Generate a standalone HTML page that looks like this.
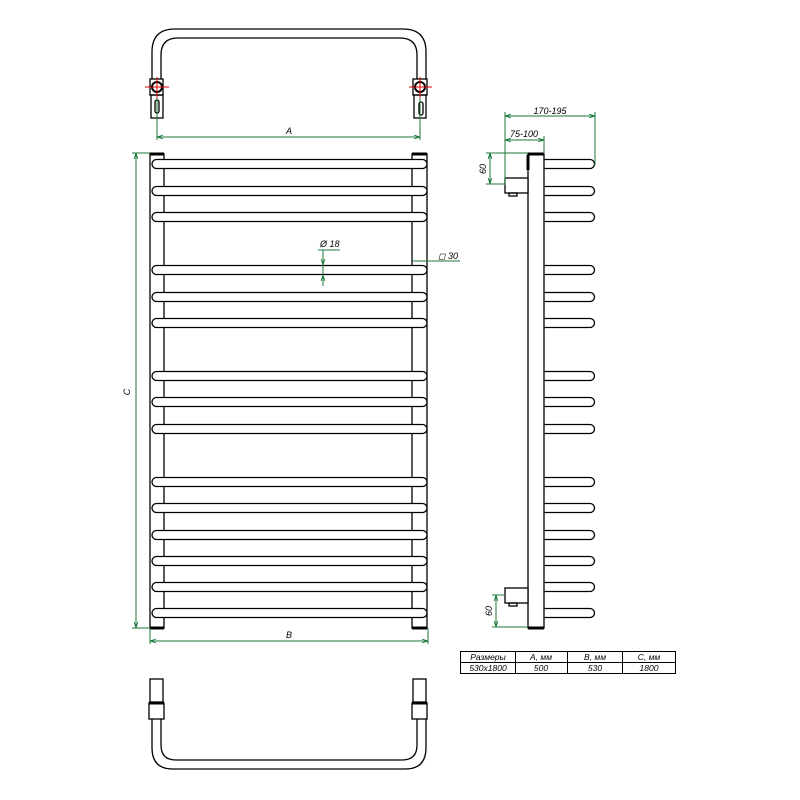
<!DOCTYPE html>
<html><head><meta charset="utf-8"><style>html,body{margin:0;padding:0;background:#fff}svg{display:block}</style></head>
<body>
<svg width="800" height="800" viewBox="0 0 800 800" xmlns="http://www.w3.org/2000/svg" font-family="Liberation Sans, sans-serif">
<defs>
<marker id="ar" viewBox="0 0 10 10" refX="10" refY="5" markerWidth="6" markerHeight="6" orient="auto-start-reverse"><path d="M0,2 L10,5 L0,8" fill="none" stroke="#1a7a3a" stroke-width="1.5"/></marker>
</defs>
<g fill="none" stroke="#000" stroke-width="1.3">
<!-- top view -->
<path d="M152,80 V52 Q152,29 175,29 H403 Q426,29 426,52 V80"/>
<path d="M161,80 V55 Q161,38 178,38 H400 Q417,38 417,55 V80"/>
<rect x="150" y="79" width="13" height="16" fill="#fff"/>
<rect x="151" y="95" width="12" height="23"/>
<rect x="413" y="79" width="14" height="16" fill="#fff"/>
<rect x="414" y="95" width="12" height="23"/>
<circle cx="157" cy="87" r="5" stroke-width="2"/>
<circle cx="420" cy="87" r="5" stroke-width="2"/>
<rect x="155" y="100" width="4" height="13" rx="2"/>
<rect x="419" y="102" width="4" height="13" rx="2"/>
<!-- front posts -->
<rect x="150" y="154" width="14" height="474"/>
<rect x="412" y="154" width="15" height="474"/>
<!-- bottom view -->
<rect x="150" y="679" width="13" height="23"/>
<rect x="149" y="703" width="15" height="16"/>
<rect x="413" y="679" width="13" height="23"/>
<rect x="412" y="703" width="15" height="16"/>
<path d="M152,719 V748 Q152,769 173,769 H405 Q426,769 426,748 V719"/>
<path d="M161,719 V745 Q161,760 176,760 H402 Q417,760 417,745 V719"/>
<!-- side view -->
<rect x="528" y="154" width="16" height="474"/>
<rect x="505" y="178" width="23" height="15" fill="#fff"/>
<rect x="509" y="193" width="8" height="3"/>
<rect x="505" y="588" width="23" height="15" fill="#fff"/>
<rect x="509" y="603" width="8" height="3"/>
</g>
<g stroke="#000" stroke-width="3">
<line x1="150" y1="154" x2="164" y2="154"/><line x1="412" y1="154" x2="427" y2="154"/>
<line x1="150" y1="628" x2="164" y2="628"/><line x1="412" y1="628" x2="427" y2="628"/>
<line x1="528" y1="154" x2="544" y2="154"/><line x1="528" y1="628" x2="544" y2="628"/>
<line x1="149" y1="703" x2="164" y2="703"/><line x1="412" y1="703" x2="427" y2="703"/>
<line x1="528" y1="155" x2="528" y2="170"/>
</g>
<g fill="#fff" stroke="#000" stroke-width="1.3" id="bars">
<rect x="152" y="159.5" width="275" height="9" rx="4.5"/>
<rect x="152" y="186.5" width="275" height="9" rx="4.5"/>
<rect x="152" y="212.5" width="275" height="9" rx="4.5"/>
<rect x="152" y="265.5" width="275" height="9" rx="4.5"/>
<rect x="152" y="292.5" width="275" height="9" rx="4.5"/>
<rect x="152" y="318.5" width="275" height="9" rx="4.5"/>
<rect x="152" y="371.5" width="275" height="9" rx="4.5"/>
<rect x="152" y="397.5" width="275" height="9" rx="4.5"/>
<rect x="152" y="424.5" width="275" height="9" rx="4.5"/>
<rect x="152" y="477.5" width="275" height="9" rx="4.5"/>
<rect x="152" y="503.5" width="275" height="9" rx="4.5"/>
<rect x="152" y="530.5" width="275" height="9" rx="4.5"/>
<rect x="152" y="556.5" width="275" height="9" rx="4.5"/>
<rect x="152" y="582.5" width="275" height="9" rx="4.5"/>
<rect x="152" y="608.5" width="275" height="9" rx="4.5"/>
</g>
<g fill="none" stroke="#000" stroke-width="1.3">
<path d="M544,159.5 H590 a4.5,4.5 0 0 1 0,9 H544"/>
<path d="M544,186.5 H590 a4.5,4.5 0 0 1 0,9 H544"/>
<path d="M544,212.5 H590 a4.5,4.5 0 0 1 0,9 H544"/>
<path d="M544,265.5 H590 a4.5,4.5 0 0 1 0,9 H544"/>
<path d="M544,292.5 H590 a4.5,4.5 0 0 1 0,9 H544"/>
<path d="M544,318.5 H590 a4.5,4.5 0 0 1 0,9 H544"/>
<path d="M544,371.5 H590 a4.5,4.5 0 0 1 0,9 H544"/>
<path d="M544,397.5 H590 a4.5,4.5 0 0 1 0,9 H544"/>
<path d="M544,424.5 H590 a4.5,4.5 0 0 1 0,9 H544"/>
<path d="M544,477.5 H590 a4.5,4.5 0 0 1 0,9 H544"/>
<path d="M544,503.5 H590 a4.5,4.5 0 0 1 0,9 H544"/>
<path d="M544,530.5 H590 a4.5,4.5 0 0 1 0,9 H544"/>
<path d="M544,556.5 H590 a4.5,4.5 0 0 1 0,9 H544"/>
<path d="M544,582.5 H590 a4.5,4.5 0 0 1 0,9 H544"/>
<path d="M544,608.5 H590 a4.5,4.5 0 0 1 0,9 H544"/>
</g>
<!-- red centre marks -->
<g stroke="#d00" stroke-width="1">
<line x1="145" y1="87" x2="169" y2="87"/><line x1="157" y1="77" x2="157" y2="98"/>
<line x1="409" y1="87" x2="432" y2="87"/><line x1="420" y1="77" x2="420" y2="98"/>
</g>
<!-- dimensions -->
<g stroke="#1a7a3a" stroke-width="1" fill="none">
<line x1="157" y1="98" x2="157" y2="140"/><line x1="420" y1="98" x2="420" y2="140"/>
<line x1="157" y1="137" x2="420" y2="137" marker-start="url(#ar)" marker-end="url(#ar)"/>
<line x1="132" y1="153" x2="150" y2="153"/><line x1="132" y1="628" x2="150" y2="628"/>
<line x1="136" y1="153" x2="136" y2="628" marker-start="url(#ar)" marker-end="url(#ar)"/>
<line x1="150" y1="628" x2="150" y2="644"/><line x1="428" y1="628" x2="428" y2="644"/>
<line x1="150" y1="641" x2="428" y2="641" marker-start="url(#ar)" marker-end="url(#ar)"/>
<line x1="318" y1="250" x2="340" y2="250"/>
<line x1="323" y1="250" x2="323" y2="286"/>
<line x1="323" y1="262" x2="323" y2="265" marker-end="url(#ar)"/>
<line x1="323" y1="283" x2="323" y2="275" marker-end="url(#ar)"/>
<line x1="413" y1="261" x2="460" y2="261"/>
<line x1="505" y1="112" x2="505" y2="185"/><line x1="595" y1="112" x2="595" y2="165"/>
<line x1="505" y1="116" x2="595" y2="116" marker-start="url(#ar)" marker-end="url(#ar)"/>
<line x1="544" y1="136" x2="544" y2="154"/>
<line x1="505" y1="140" x2="544" y2="140" marker-start="url(#ar)" marker-end="url(#ar)"/>
<line x1="486" y1="153" x2="528" y2="153"/><line x1="486" y1="184" x2="505" y2="184"/>
<line x1="490" y1="153" x2="490" y2="184" marker-start="url(#ar)" marker-end="url(#ar)"/>
<line x1="492" y1="595" x2="505" y2="595"/><line x1="492" y1="627" x2="528" y2="627"/>
<line x1="496" y1="595" x2="496" y2="627" marker-start="url(#ar)" marker-end="url(#ar)"/>
</g>
<g font-size="9" font-style="italic" fill="#000">
<text x="289" y="134" text-anchor="middle">A</text>
<text x="289" y="638" text-anchor="middle">B</text>
<text x="130" y="392" text-anchor="middle" transform="rotate(-90 130 392)">C</text>
<text x="320" y="247">Ø 18</text>
<text x="438" y="259">◻ 30</text>
<text x="550" y="114" text-anchor="middle">170-195</text>
<text x="524" y="137" text-anchor="middle">75-100</text>
<text x="486" y="169" text-anchor="middle" transform="rotate(-90 486 169)">60</text>
<text x="492" y="611" text-anchor="middle" transform="rotate(-90 492 611)">60</text>
</g>
<!-- table -->
<g fill="none" stroke="#000" stroke-width="1">
<rect x="460.5" y="651.5" width="215" height="22"/>
<line x1="460" y1="662.5" x2="676" y2="662.5"/>
<line x1="515.5" y1="651" x2="515.5" y2="674"/>
<line x1="567.5" y1="651" x2="567.5" y2="674"/>
<line x1="622.5" y1="651" x2="622.5" y2="674"/>
</g>
<g font-size="8.5" font-style="italic" fill="#000" text-anchor="middle">
<text x="488" y="660">Размеры</text><text x="541" y="660">A, мм</text><text x="595" y="660">B, мм</text><text x="649" y="660">C, мм</text>
<text x="488" y="671">530x1800</text><text x="541" y="671">500</text><text x="595" y="671">530</text><text x="649" y="671">1800</text>
</g>
</svg>
</body></html>
